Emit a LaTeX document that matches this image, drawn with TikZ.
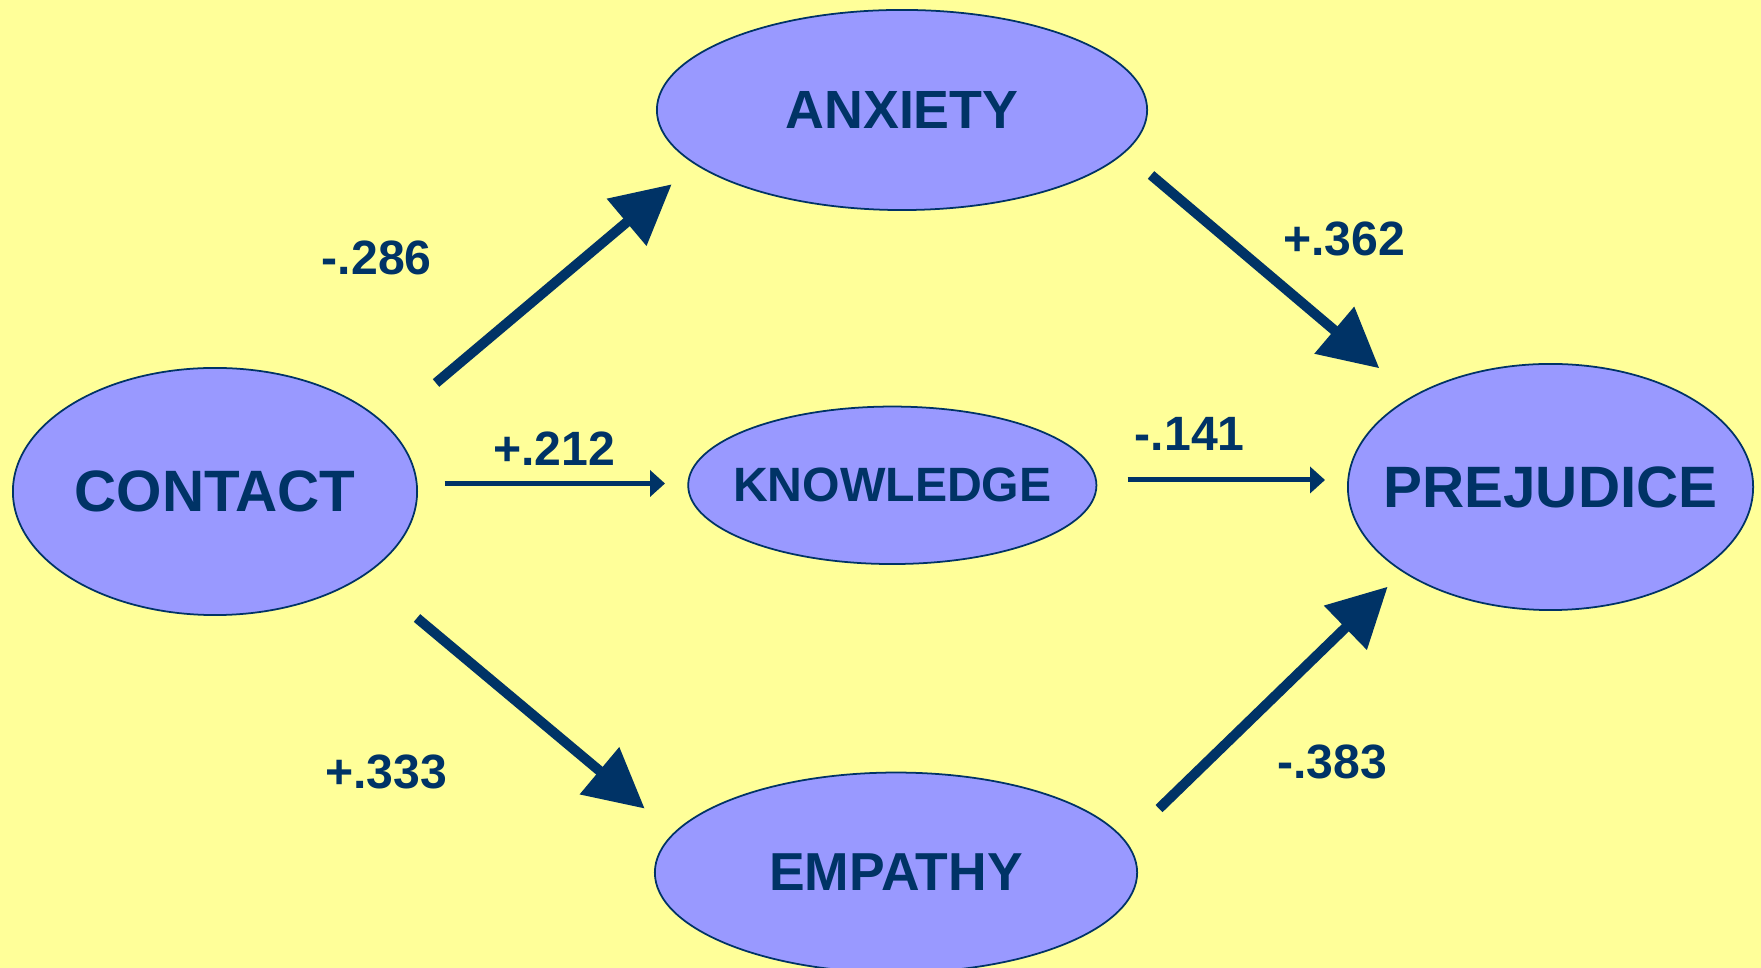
\documentclass[tikz,border=0pt]{standalone}
\usepackage{fontspec}
\setmainfont{Liberation Sans}
\usetikzlibrary{shapes.geometric,arrows.meta}
\definecolor{navy}{HTML}{003366}
\definecolor{paper}{HTML}{FFFF99}
\definecolor{blob}{HTML}{9999FF}
\begin{document}
\begin{tikzpicture}[x=0.01cm,y=-0.01cm,
	var/.style={ellipse,draw=navy,line width=0.5pt,fill=blob,inner sep=0pt,text=navy},
	coef/.style={text=navy,inner sep=0pt,font=\fontsize{13.7}{15}\selectfont\bfseries},
	bigarrow/.style={navy,line width=0.1cm,-{Triangle[length=0.59cm,width=0.59cm]}},
	smallarrow/.style={navy,line width=0.05cm,-{Triangle[length=0.15cm,width=0.26cm]}}]
			\fill[paper] (0,0) rectangle (1761,968);
			\useasboundingbox (0,0) rectangle (1761,968);
			% variables
			\node[var,minimum width=4.04cm,minimum height=2.47cm,font=\fontsize{16.6}{18}\selectfont\bfseries] (contact) at (215,491.5) {\makebox[0pt]{CONTACT}};
			\node[var,minimum width=4.90cm,minimum height=2.00cm,font=\fontsize{15.3}{17}\selectfont\bfseries] (anxiety) at (902,110) {\makebox[0pt]{ANXIETY}};
			\node[var,minimum width=4.08cm,minimum height=1.574cm,font=\fontsize{13.7}{15}\selectfont\bfseries] (knowledge) at (892.3,485.3) {\makebox[0pt]{KNOWLEDGE}};
			\node[var,minimum width=4.05cm,minimum height=2.46cm,font=\fontsize{16.6}{18}\selectfont\bfseries] (prejudice) at (1550.5,487) {\makebox[0pt]{PREJUDICE}};
			\node[var,minimum width=4.82cm,minimum height=2.00cm,font=\fontsize{15.2}{17}\selectfont\bfseries] (empathy) at (896,872.6) {\makebox[0pt]{EMPATHY}};
			% arrow ends
			\coordinate (ca1) at (436,383);
			\coordinate (ca2) at (671.7,184.3);
			\coordinate (ap1) at (1151,175);
			\coordinate (ap2) at (1379.3,368.3);
			\coordinate (ce1) at (417,618);
			\coordinate (ce2) at (644.7,808.6);
			\coordinate (ep1) at (1159,808.6);
			\coordinate (ep2) at (1387.7,586.7);
			\coordinate (ck1) at (444.7,483.5);
			\coordinate (ck2) at (665,483.5);
			\coordinate (kp1) at (1127.6,480);
			\coordinate (kp2) at (1325,480);
			\draw[bigarrow] (ca1) -- (ca2);
			\draw[bigarrow] (ap1) -- (ap2);
			\draw[bigarrow] (ce1) -- (ce2);
			\draw[bigarrow] (ep1) -- (ep2);
			\draw[smallarrow] (ck1) -- (ck2);
			\draw[smallarrow] (kp1) -- (kp2);
			% path weights
			\node[coef] (w286) at (376.7,257.5) {-.286};
			\node[coef] (w362) at (1344,238.8) {+.362};
			\node[coef] (w212) at (554.2,448.3) {+.212};
			\node[coef] (w141) at (1189.7,434.2) {-.141};
			\node[coef] (w333) at (386.3,772.2) {+.333};
			\node[coef] (w383) at (1332,761.7) {-.383};
		\end{tikzpicture}
\end{document}
